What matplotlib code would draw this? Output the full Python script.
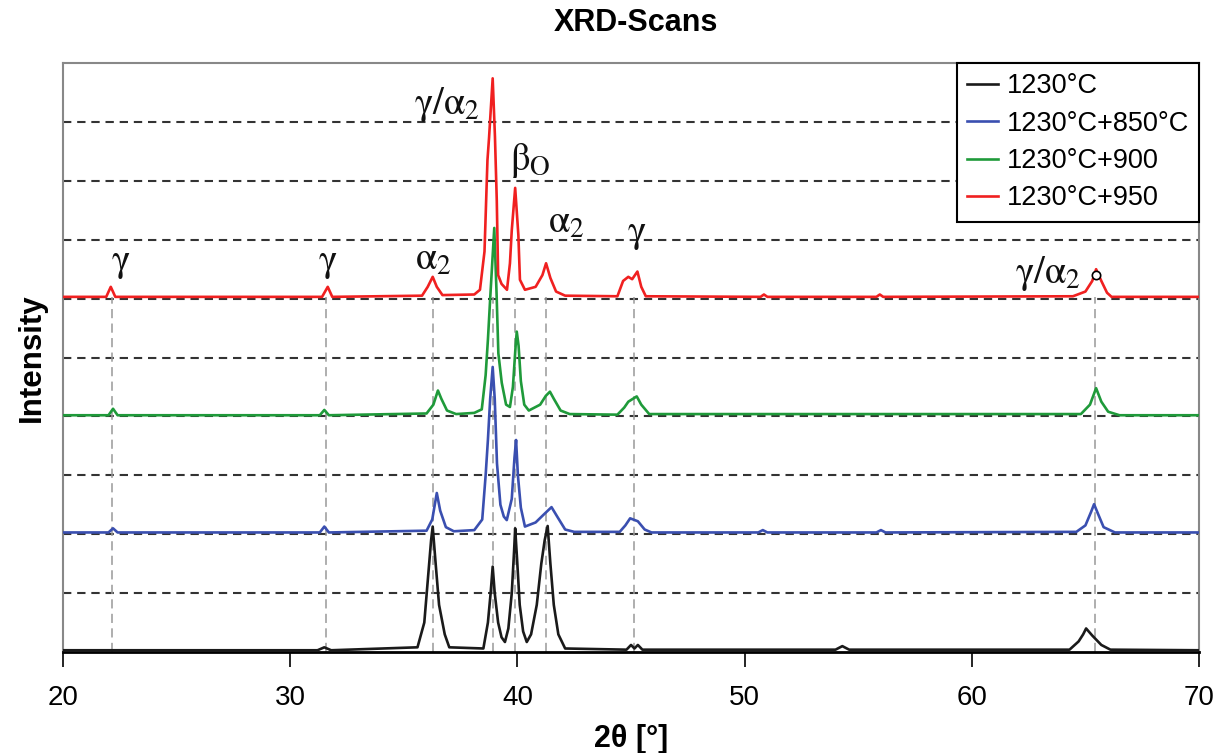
import matplotlib
matplotlib.use("Agg")
import matplotlib.pyplot as plt
from matplotlib import font_manager

plt.rcParams['mathtext.fontset'] = 'stix'

names = {f.name for f in font_manager.fontManager.ttflist}
narrow = 'Liberation Sans Narrow' if 'Liberation Sans Narrow' in names else 'Liberation Sans'

# --- diffraction scans (2theta in degrees, stacked intensity in arbitrary units) ---
tth_1230 = [20, 31.2, 31.5, 31.8, 35.6, 35.9, 36.05, 36.2, 36.27, 36.4, 36.55, 36.8, 37.0,
            38.5, 38.7, 38.82, 38.91, 39.0, 39.15, 39.3, 39.45, 39.6, 39.75, 39.85, 39.9,
            39.98, 40.1, 40.25, 40.41, 40.6, 40.85, 41.05, 41.2, 41.33, 41.45, 41.6, 41.8,
            42.1, 44.8, 45.0, 45.15, 45.3, 45.5, 54.0, 54.3, 54.6, 64.3, 64.7, 64.9, 65.03,
            65.3, 65.7, 66.1, 70]
int_1230 = [0.03, 0.03, 0.08, 0.03, 0.08, 0.5, 1.2, 1.9, 2.13, 1.5, 0.8, 0.3, 0.08,
            0.06, 0.5, 1.0, 1.45, 1.0, 0.5, 0.25, 0.17, 0.4, 1.0, 1.7, 2.1,
            1.6, 0.8, 0.35, 0.17, 0.3, 0.8, 1.5, 1.9, 2.14, 1.5, 0.8, 0.3,
            0.06, 0.04, 0.12, 0.06, 0.12, 0.04, 0.04, 0.1, 0.04, 0.04, 0.18, 0.3, 0.40,
            0.28, 0.12, 0.04, 0.03]

tth_850 = [20, 22.0, 22.2, 22.4, 31.3, 31.5, 31.7, 36.0, 36.25, 36.45, 36.6, 36.85, 37.2,
           38.1, 38.45, 38.6, 38.7, 38.8, 38.91, 39.0, 39.1, 39.25, 39.4, 39.53, 39.75,
           39.87, 39.94, 40.02, 40.15, 40.33, 40.8, 41.2, 41.5, 41.75, 42.1, 42.5, 44.5,
           44.75, 44.96, 45.3, 45.6, 45.9, 50.6, 50.8, 51.0, 55.8, 56.0, 56.2, 64.6,
           65.0, 65.25, 65.38, 65.55, 65.8, 66.3, 70]
int_850 = [2.03, 2.03, 2.1, 2.03, 2.03, 2.13, 2.03, 2.06, 2.25, 2.7, 2.4, 2.12, 2.05,
           2.07, 2.25, 3.0, 3.6, 4.3, 4.84, 4.3, 3.2, 2.5, 2.3, 2.24, 2.6,
           3.3, 3.6, 3.0, 2.45, 2.13, 2.2, 2.35, 2.46, 2.3, 2.08, 2.04, 2.04,
           2.15, 2.27, 2.22, 2.08, 2.03, 2.03, 2.07, 2.03, 2.03, 2.07, 2.03, 2.04,
           2.15, 2.38, 2.51, 2.35, 2.12, 2.03, 2.03]

tth_900 = [20, 22.0, 22.2, 22.4, 31.3, 31.5, 31.7, 36.0, 36.3, 36.5, 36.65, 36.9, 37.3,
           38.1, 38.43, 38.6, 38.7, 38.8, 38.98, 39.08, 39.16, 39.31, 39.5, 39.67, 39.8,
           39.92, 39.97, 40.05, 40.15, 40.3, 40.5, 41.0, 41.25, 41.43, 41.6, 41.9, 42.3,
           44.4, 44.7, 44.88, 45.25, 45.45, 45.8, 64.8, 65.2, 65.47, 65.7, 66.0, 66.5, 70]
int_900 = [4.02, 4.02, 4.13, 4.02, 4.02, 4.11, 4.02, 4.05, 4.2, 4.44, 4.3, 4.1, 4.04,
           4.06, 4.12, 4.7, 5.3, 6.0, 7.2, 6.1, 5.07, 4.57, 4.2, 4.16, 4.5,
           5.2, 5.44, 5.2, 4.6, 4.2, 4.1, 4.2, 4.35, 4.42, 4.3, 4.1, 4.04,
           4.03, 4.15, 4.25, 4.34, 4.2, 4.04, 4.04, 4.2, 4.48, 4.25, 4.08, 4.02, 4.02]

tth_950 = [20, 21.9, 22.1, 22.3, 31.4, 31.65, 31.85, 35.8, 36.05, 36.27, 36.45, 36.7,
           38.1, 38.35, 38.55, 38.68, 38.75, 38.91, 39.01, 39.09, 39.15, 39.3, 39.54,
           39.67, 39.75, 39.9, 40.04, 40.11, 40.33, 40.8, 41.1, 41.26, 41.45, 41.7, 42.1,
           44.4, 44.65, 44.88, 45.05, 45.28, 45.45, 45.65, 50.7, 50.85, 51.0, 55.8, 55.95,
           56.1, 64.45, 65.0, 65.3, 65.47, 65.7, 65.95, 66.15, 70]
int_950 = [6.03, 6.03, 6.2, 6.03, 6.03, 6.2, 6.03, 6.05, 6.2, 6.37, 6.2, 6.06,
           6.07, 6.15, 6.8, 8.35, 8.73, 9.74, 8.75, 7.67, 6.4, 6.25, 6.15,
           6.6, 7.16, 7.88, 7.08, 6.32, 6.15, 6.2, 6.4, 6.6, 6.35, 6.12, 6.05,
           6.04, 6.3, 6.37, 6.33, 6.46, 6.2, 6.04, 6.03, 6.07, 6.03, 6.03, 6.07,
           6.03, 6.04, 6.12, 6.3, 6.5, 6.3, 6.1, 6.03, 6.03]

series_labels = ['1230°C', '1230°C+850°C', '1230°C+900', '1230°C+950']
series_colors = ['#1a1a1a', '#3a4fb0', '#1f9a3a', '#f02020']

# reflection markers and their phase labels
ref_positions = [22.15, 31.56, 36.3, 38.92, 39.9, 41.26, 45.13, 65.42]
red_baseline = 6.03
phase_labels = [r'$\mathrm{\gamma}$', r'$\mathrm{\gamma}$', r'$\mathrm{\alpha_2}$',
                r'$\mathrm{\gamma/\alpha_2}$', r'$\mathrm{\beta_O}$', r'$\mathrm{\alpha_2}$',
                r'$\mathrm{\gamma}$', r'$\mathrm{\gamma/\alpha_2}$']
label_x = [22.55, 31.65, 36.3, 36.9, 40.55, 42.15, 45.25, 63.35]
label_y = [6.62, 6.62, 6.68, 9.3, 8.35, 7.3, 7.12, 6.42]
circle_pt = (65.45, 6.4)

fig = plt.figure(figsize=(12.22, 7.53), dpi=100)
ax = fig.add_axes([0.0516, 0.1341, 0.9296, 0.7822])

for yv in range(1, 10):
    ax.axhline(yv, color='#333333', lw=1.5, ls=(0, (4, 2.8)), zorder=1)
for xv in ref_positions:
    ax.plot([xv, xv], [0, red_baseline], color='#999999', lw=1.1,
            ls=(0, (6, 3.5)), zorder=1)

for xs, ys, lab, col in zip([tth_1230, tth_850, tth_900, tth_950],
                            [int_1230, int_850, int_900, int_950],
                            series_labels, series_colors):
    ax.plot(xs, ys, color=col, lw=1.9, label=lab, zorder=3)

for t, xv, yv in zip(phase_labels, label_x, label_y):
    ax.text(xv, yv, t, fontsize=28, ha='center', va='center', color='#111111', zorder=4)
ax.plot(*circle_pt, marker='o', ms=6, mfc='white', mec='black', mew=1.2, zorder=5)

ax.set_xlim(20, 70)
ax.set_ylim(0, 10)
ax.set_yticks([])
ax.set_xticks([20, 30, 40, 50, 60, 70])
ax.tick_params(axis='x', direction='out', length=11, width=1.2, pad=13,
               labelsize=20)
for lbl in ax.get_xticklabels():
    lbl.set_family(narrow)

for s in ['left', 'top', 'right']:
    ax.spines[s].set_color('#888888')
    ax.spines[s].set_linewidth(1.5)
ax.spines['bottom'].set_color('black')
ax.spines['bottom'].set_linewidth(2)

ax.set_xlabel('2θ [°]', fontsize=22, fontweight='bold', family=narrow, labelpad=9)
ax.set_ylabel('Intensity', fontsize=22.5, fontweight='bold', family='Liberation Sans',
              labelpad=12)
fig.text(0.52, 0.969, 'XRD-Scans', fontsize=22, fontweight='bold',
         family='Liberation Sans', ha='center', va='center')

leg = ax.legend(loc='upper right', borderaxespad=0.0, fancybox=False, framealpha=1,
                edgecolor='black', prop={'family': 'Liberation Sans', 'size': 19.5},
                handlelength=1.15, handletextpad=0.3, labelspacing=0.42,
                borderpad=0.38)
leg.get_frame().set_linewidth(1.5)

fig.savefig('out.png', dpi=100)
